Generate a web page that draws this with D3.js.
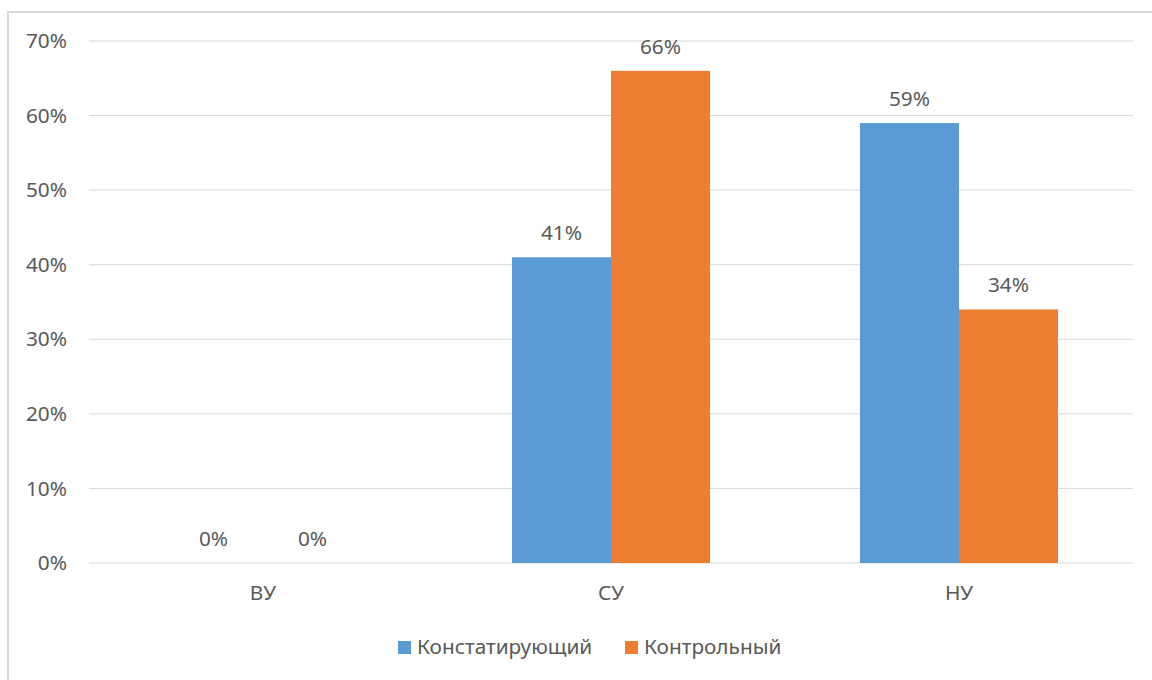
<!DOCTYPE html>
<html>
<head>
<meta charset="utf-8">
<script src="https://cdn.jsdelivr.net/npm/d3@7"></script>
<style>
  body { margin: 0; background: #fff; }
  text { font-family: "Noto Sans", sans-serif; fill: #595959; }
</style>
</head>
<body>
<div id="chart"></div>
<script>
const categories = ["ВУ", "СУ", "НУ"];
const seriesNames = ["Констатирующий", "Контрольный"];
const seriesColors = ["#5B9BD5", "#ED7D31"];
const konstat = [0, 0.41, 0.59];
const kontrol = [0, 0.66, 0.34];
const yTicks = [0, 0.1, 0.2, 0.3, 0.4, 0.5, 0.6, 0.7];

const width = 1152, height = 680;
const margin = {top: 41, right: 19, bottom: 117, left: 89};
const fontSize = "20.8px";

let data = categories.map((c, i) => ({cat: c, values: [konstat[i], kontrol[i]]}));

let svg = d3.select("#chart")
    .append("svg")
    .attr("width", width)
    .attr("height", height);

// outer frame
svg.append("rect")
    .attr("x", 8)
    .attr("y", 12)
    .attr("width", width)
    .attr("height", height)
    .attr("fill", "none")
    .attr("stroke", "#d9d9d9")
    .attr("stroke-width", 2);

let g = svg.append("g")
    .attr("transform", `translate(${margin.left},${margin.top})`);

let plotW = width - margin.left - margin.right,
    plotH = height - margin.top - margin.bottom;

let x0 = d3.scaleBand()
    .domain(categories)
    .range([0, plotW])
    .padding(0);

let x1 = d3.scaleBand()
    .domain([0, 1])
    .range([0, x0.bandwidth()])
    .paddingInner(0)
    .paddingOuter(0.758);

let y = d3.scaleLinear()
    .domain([0, 0.7])
    .range([plotH, 0]);

// gridlines
g.append("g")
    .selectAll("line")
    .data(yTicks)
    .enter()
    .append("line")
    .attr("x1", 0)
    .attr("x2", plotW)
    .attr("y1", d => y(d))
    .attr("y2", d => y(d))
    .attr("stroke", "#d9d9d9")
    .attr("stroke-width", 1);

// y axis labels
let yAxis = g.append("g")
    .attr("transform", "translate(-22,0)")
    .call(d3.axisLeft(y).tickValues(yTicks).tickFormat(d3.format(".0%")).tickSize(0).tickPadding(0));
yAxis.select(".domain").remove();
yAxis.selectAll("text")
    .style("font-size", fontSize)
    .attr("fill", "#595959")
    .style("font-family", "'Noto Sans', sans-serif");

// x axis labels
let xAxis = g.append("g")
    .attr("transform", `translate(0,${plotH})`)
    .call(d3.axisBottom(x0).tickSize(0).tickPadding(22));
xAxis.select(".domain").remove();
xAxis.selectAll("text")
    .style("font-size", fontSize)
    .attr("fill", "#595959")
    .style("font-family", "'Noto Sans', sans-serif");

// bars
let groups = g.selectAll(".grp")
    .data(data)
    .enter()
    .append("g")
    .attr("class", "grp")
    .attr("transform", d => `translate(${x0(d.cat)},0)`);

groups.selectAll("rect")
    .data(d => d.values.map((v, i) => ({i: i, v: v})))
    .enter()
    .append("rect")
    .attr("x", d => x1(d.i))
    .attr("y", d => y(d.v))
    .attr("width", x1.bandwidth())
    .attr("height", d => plotH - y(d.v))
    .attr("fill", d => seriesColors[d.i]);

groups.selectAll("text.lbl")
    .data(d => d.values.map((v, i) => ({i: i, v: v})))
    .enter()
    .append("text")
    .attr("class", "lbl")
    .attr("x", d => x1(d.i) + x1.bandwidth() / 2)
    .attr("y", d => y(d.v) - 17)
    .attr("text-anchor", "middle")
    .style("font-size", fontSize)
    .text(d => d3.format(".0%")(d.v));

// legend
let legend = svg.append("g").attr("transform", "translate(398,647)");
let legendX = [0, 227];
seriesNames.forEach((name, i) => {
    let item = legend.append("g").attr("transform", `translate(${legendX[i]},0)`);
    item.append("rect")
        .attr("x", 0)
        .attr("y", -6)
        .attr("width", 13)
        .attr("height", 13)
        .attr("fill", seriesColors[i]);
    item.append("text")
        .attr("x", 19)
        .attr("y", 0)
        .attr("dy", "0.35em")
        .style("font-size", fontSize)
        .text(name);
});
</script>
</body>
</html>
